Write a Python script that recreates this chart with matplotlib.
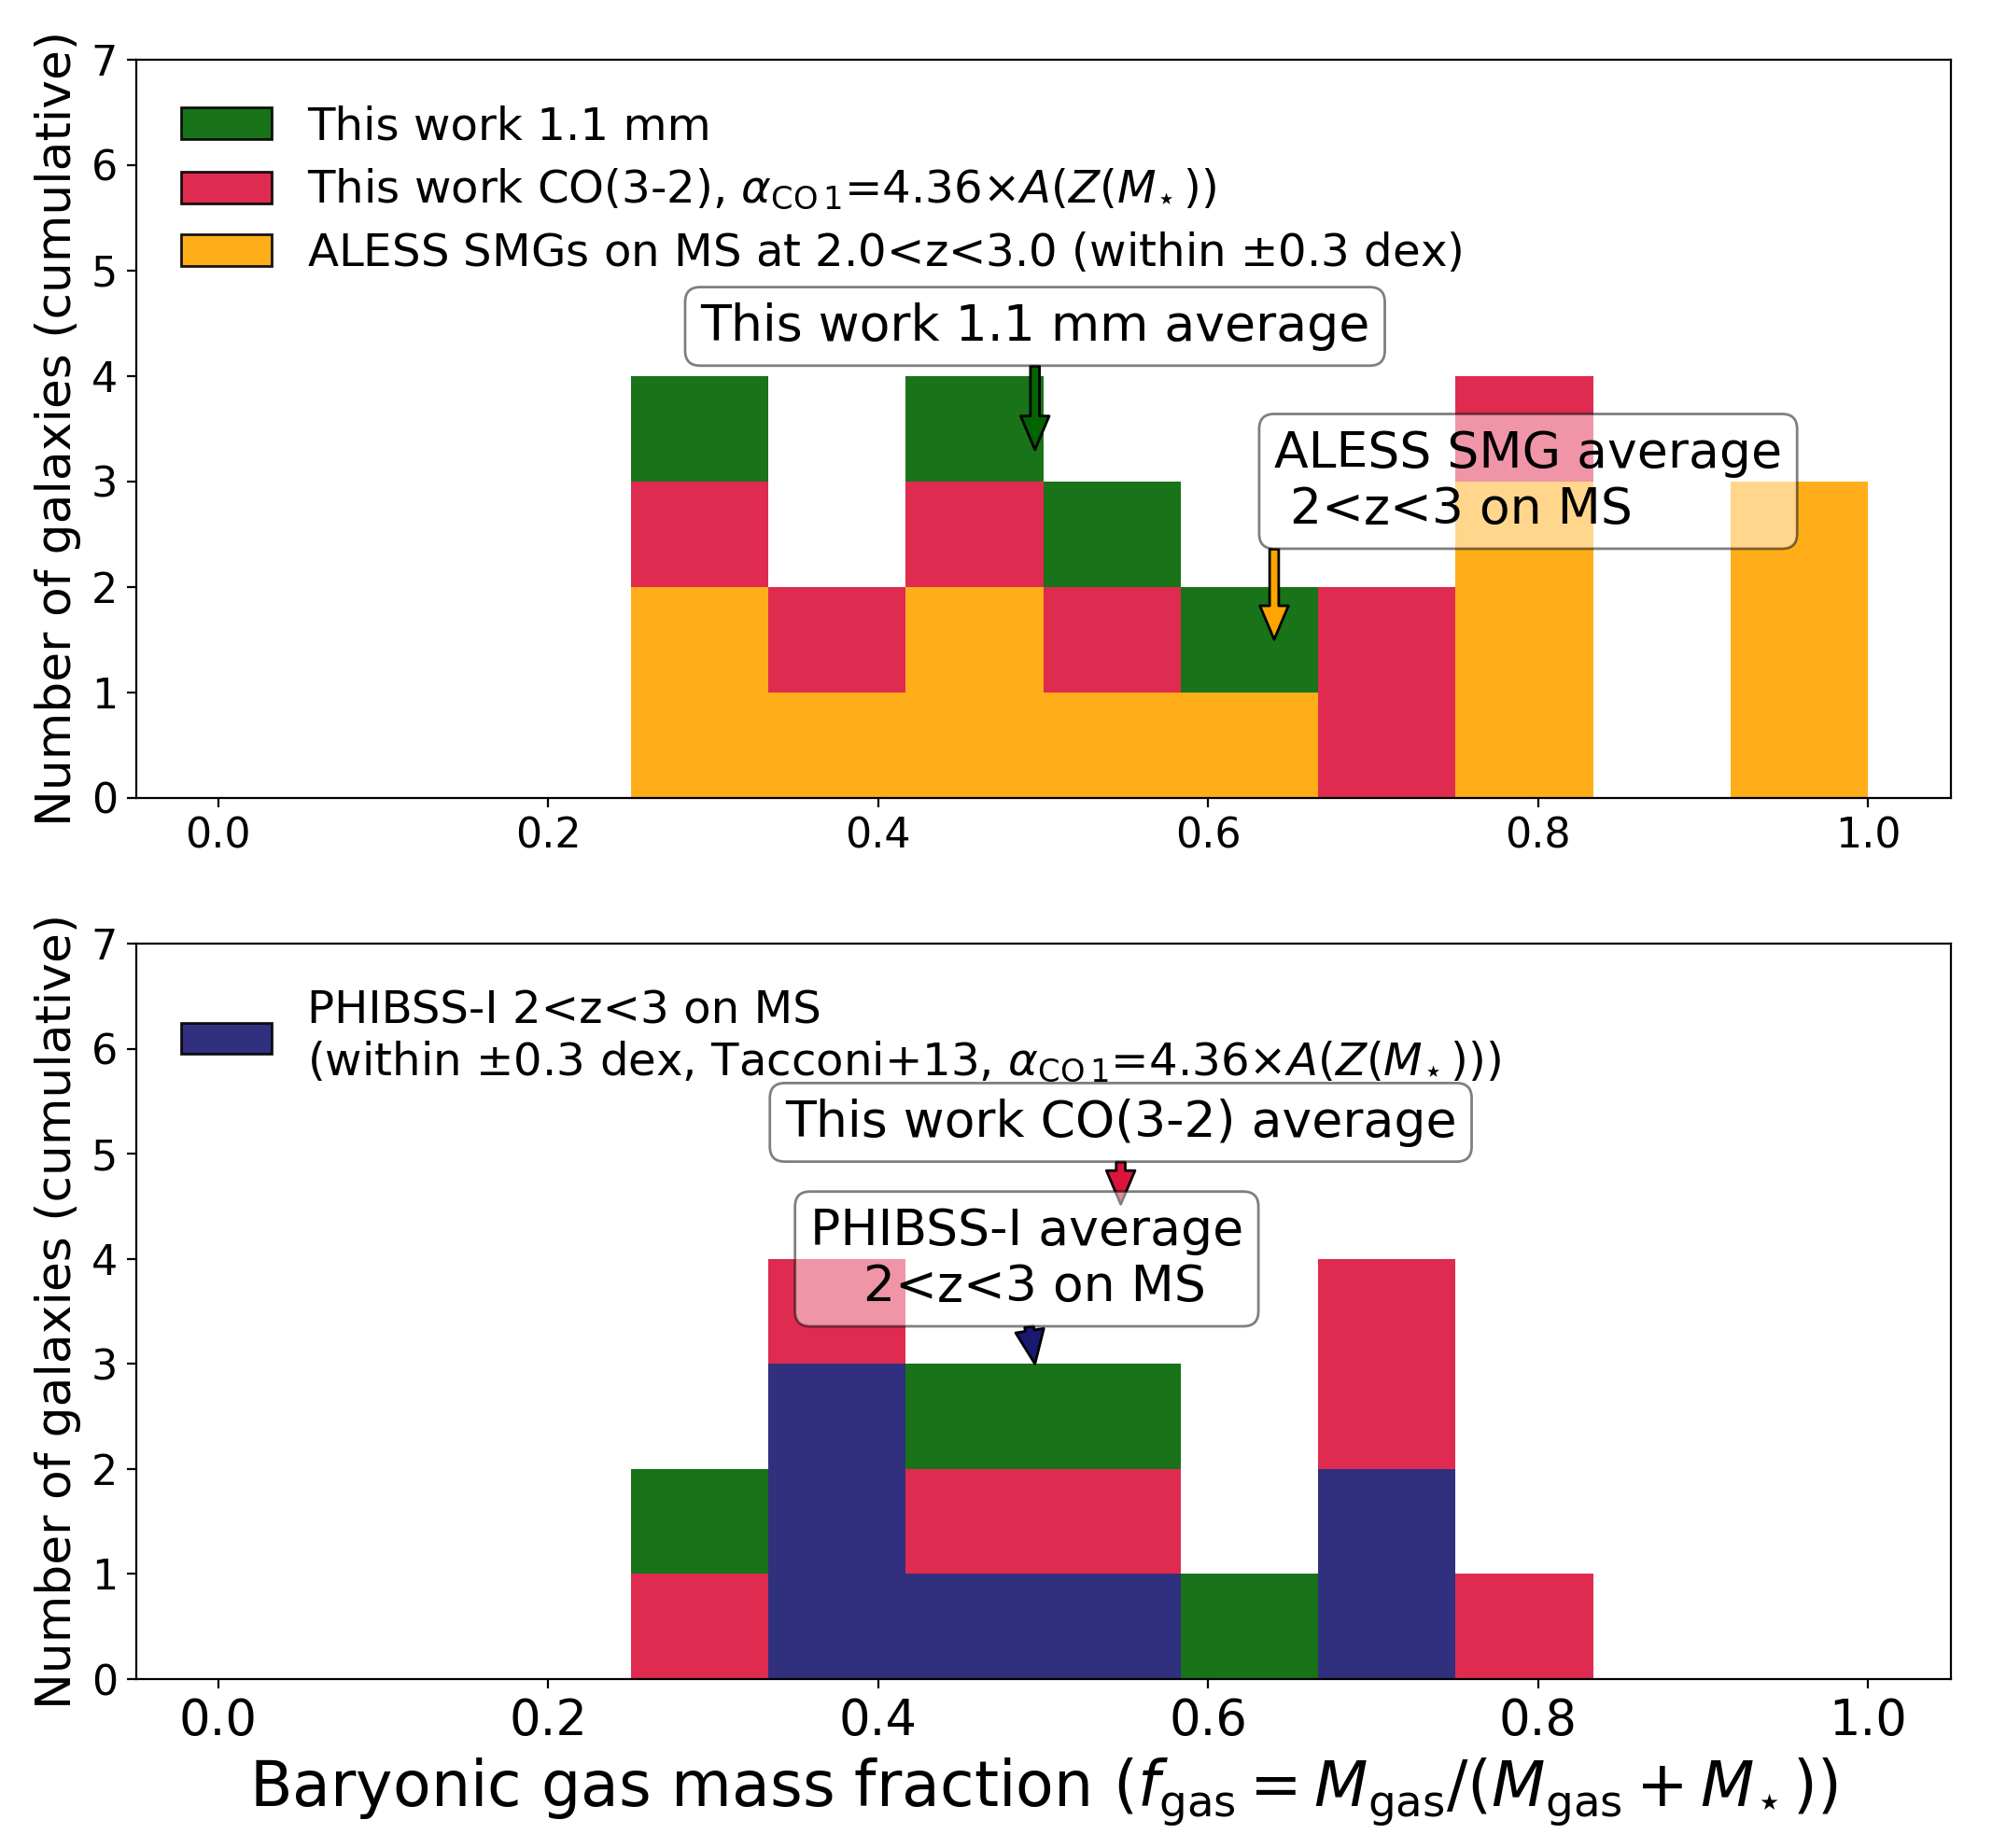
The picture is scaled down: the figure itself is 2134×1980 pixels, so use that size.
import numpy as np
import matplotlib.pyplot as plt
from matplotlib.patches import Patch

# bins of width 1/12 between 0 and 1
bin_edges = np.linspace(0.0, 1.0, 13)

# counts per bin (top panel)
aless_counts = [0, 0, 0, 2, 1, 2, 1, 1, 0, 3, 0, 3]
co32_counts = [0, 0, 0, 1, 1, 1, 1, 0, 2, 1, 0, 0]
mm11_counts = [0, 0, 0, 1, 0, 1, 1, 1, 0, 0, 0, 0]
# counts per bin (bottom panel)
phibss_counts = [0, 0, 0, 0, 3, 1, 1, 0, 2, 0, 0, 0]

# averages (arrow positions)
mm11_avg = 0.495
aless_avg = 0.640
co32_avg = 0.547
phibss_avg = 0.495

c_green = 'darkgreen'
c_red = 'crimson'
c_orange = 'orange'
c_navy = 'midnightblue'

lab_mm = 'This work 1.1 mm'
lab_co = r'This work CO(3-2), $\alpha_{\rm CO\,1}$=4.36$\times A(Z(M_{\!\star}))$'
lab_aless = r'ALESS SMGs on MS at 2.0<z<3.0 (within $\pm$0.3 dex)'
lab_phibss = ('PHIBSS-I 2<z<3 on MS\n(within $\\pm$0.3 dex, Tacconi+13, '
              r'$\alpha_{\rm CO\,1}$=4.36$\times A(Z(M_{\!\star})))$')

fig = plt.figure(figsize=(10.67, 9.9), dpi=200)
ax1 = fig.add_axes([0.0682, 0.5684, 0.911, 0.3993])
ax2 = fig.add_axes([0.0682, 0.0914, 0.911, 0.3979])

w = bin_edges[1] - bin_edges[0]
left = bin_edges[:-1]


def stack(ax, series):
    bottom = np.zeros(len(left))
    for counts, col in series:
        counts = np.array(counts, dtype=float)
        ax.bar(left, counts, width=w, bottom=bottom, align='edge',
               color=col, alpha=0.9, linewidth=0)
        bottom += counts


stack(ax1, [(aless_counts, c_orange), (co32_counts, c_red), (mm11_counts, c_green)])
stack(ax2, [(phibss_counts, c_navy), (co32_counts, c_red), (mm11_counts, c_green)])

for ax in (ax1, ax2):
    ax.set_xlim(-0.05, 1.05)
    ax.set_ylim(0, 7)
    ax.set_ylabel('Number of galaxies (cumulative)', fontsize=18.7)
    ax.tick_params(axis='y', labelsize=16)
ax1.tick_params(axis='x', labelsize=16)
ax2.tick_params(axis='x', labelsize=19)
ax2.set_xlabel(r'Baryonic gas mass fraction ($f_{\rm gas} = M_{\rm gas}/(M_{\rm gas}+M_{\!\star})$)',
               fontsize=24)

h1 = [Patch(fc=c_green, ec='k', alpha=0.9, label=lab_mm),
      Patch(fc=c_red, ec='k', alpha=0.9, label=lab_co),
      Patch(fc=c_orange, ec='k', alpha=0.9, label=lab_aless)]
ax1.legend(handles=h1, loc='upper left', frameon=False, fontsize=17.4,
           labelspacing=0.42, borderaxespad=0.6)
h2 = [Patch(fc=c_navy, ec='k', alpha=0.9, label=lab_phibss)]
ax2.legend(handles=h2, loc='upper left', frameon=False, fontsize=17.4,
           labelspacing=0.42, borderaxespad=0.6)

box = dict(boxstyle='round', facecolor='white', alpha=0.5)


def arrow(col):
    return dict(facecolor=col, edgecolor='k', shrink=0.0, width=3.5,
                headwidth=11, headlength=13)


ax1.annotate('This work 1.1 mm average', xy=(mm11_avg, 3.3), xytext=(mm11_avg, 4.47),
             ha='center', va='center', fontsize=19.3, bbox=box, arrowprops=arrow(c_green))
ax1.annotate('ALESS SMG average\n 2<z<3 on MS', xy=(aless_avg, 1.5), xytext=(aless_avg, 3.0),
             ha='left', va='center', fontsize=19.3, bbox=box, arrowprops=arrow(c_orange))
ax2.annotate('This work CO(3-2) average', xy=(co32_avg, 4.52), xytext=(co32_avg, 5.3),
             ha='center', va='center', fontsize=19.3, bbox=box, arrowprops=arrow(c_red))
ax2.annotate('PHIBSS-I average\n 2<z<3 on MS', xy=(phibss_avg, 3.0), xytext=(0.49, 4.0),
             ha='center', va='center', fontsize=19.3, bbox=box, arrowprops=arrow(c_navy))

fig.savefig('out.png', dpi=200)
